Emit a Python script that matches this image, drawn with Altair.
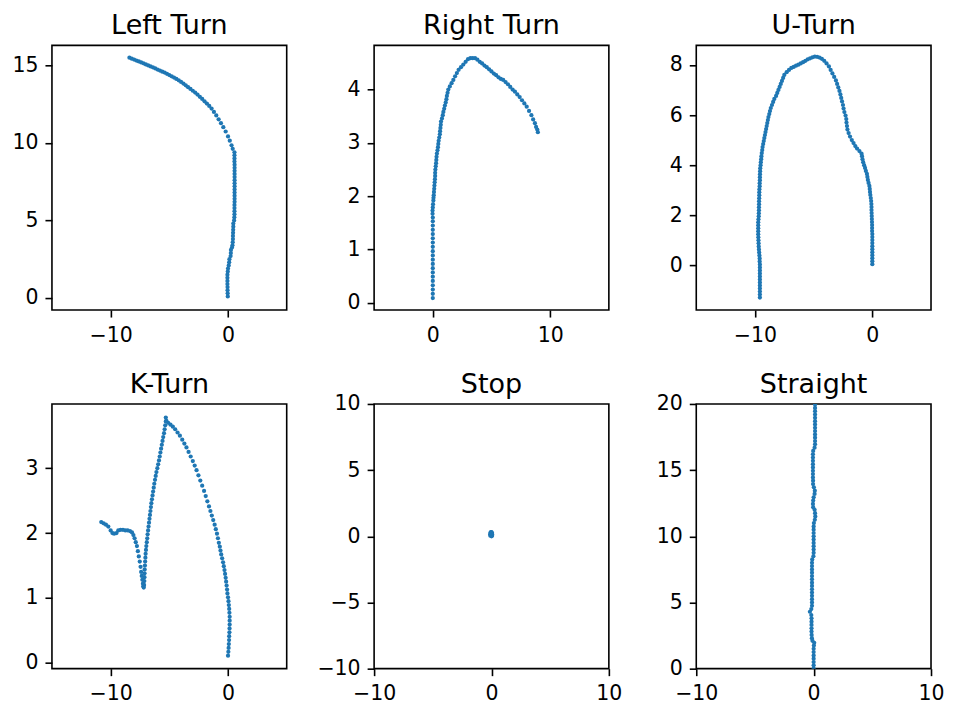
import altair as alt
import pandas as pd

BLUE = "#1f77b4"

TITLES = ["Left Turn", "Right Turn", "U-Turn", "K-Turn", "Stop", "Straight"]

LEFT_TURN = [
    (-8.4, 15.50), (-8.2, 15.44), (-8.0, 15.38), (-7.8, 15.32), (-7.6, 15.26), (-7.4, 15.20),
    (-7.2, 15.14), (-7.0, 15.07), (-6.8, 15.00), (-6.6, 14.94), (-6.4, 14.88), (-6.2, 14.81),
    (-6.0, 14.74), (-5.8, 14.67), (-5.6, 14.60), (-5.4, 14.54), (-5.2, 14.46), (-5.0, 14.38),
    (-4.8, 14.30), (-4.6, 14.22), (-4.4, 14.13), (-4.2, 14.04), (-4.0, 13.94), (-3.8, 13.83),
    (-3.6, 13.72), (-3.4, 13.60), (-3.2, 13.49), (-3.0, 13.37), (-2.8, 13.25), (-2.6, 13.12),
    (-2.4, 12.98), (-2.2, 12.84), (-2.0, 12.69), (-1.8, 12.54), (-1.6, 12.39), (-1.4, 12.22),
    (-1.2, 12.00), (-1.0, 11.78), (-0.8, 11.53), (-0.6, 11.28), (-0.4, 11.02), (-0.2, 10.74),
    (0.0, 10.42), (0.15, 10.15), (0.3, 9.85), (0.4, 9.62),
    (0.55, 9.4), (0.55, 9.2), (0.55, 9.0), (0.55, 8.8), (0.56, 8.6), (0.56, 8.4), (0.56, 8.2),
    (0.56, 8.0), (0.56, 7.8), (0.56, 7.6), (0.56, 7.4), (0.56, 7.2), (0.56, 7.0), (0.56, 6.8),
    (0.56, 6.6), (0.56, 6.4), (0.56, 6.2), (0.55, 6.0), (0.55, 5.8), (0.55, 5.6), (0.55, 5.4),
    (0.54, 5.2), (0.52, 5.0),
    (0.45, 4.8), (0.45, 4.6), (0.44, 4.4), (0.43, 4.2), (0.42, 4.0), (0.42, 3.8), (0.40, 3.6),
    (0.38, 3.4), (0.34, 3.25), (0.25, 3.1), (0.24, 2.9), (0.22, 2.7), (0.12, 2.5), (0.1, 2.3),
    (0.06, 2.1), (0.0, 1.9), (-0.02, 1.7), (-0.05, 1.5), (-0.05, 1.3), (-0.05, 1.1), (-0.05, 0.9),
    (-0.04, 0.7), (-0.04, 0.5), (-0.03, 0.3), (-0.02, 0.1),
]

RIGHT_TURN = [
    (0.0, 0.09), (0.0, 0.17), (0.0, 0.25), (0.0, 0.33), (0.0, 0.41), (0.0, 0.49), (0.0, 0.57),
    (0.0, 0.65), (0.0, 0.73), (0.0, 0.81), (0.0, 0.89), (0.0, 0.97), (0.0, 1.05), (0.0, 1.13),
    (0.0, 1.21), (0.0, 1.29), (0.0, 1.37), (0.0, 1.45), (0.0, 1.53), (0.0, 1.60), (-0.02, 1.67),
    (-0.02, 1.73), (0.0, 1.79), (0.02, 1.85),
    (0.05, 1.92), (0.06, 1.97), (0.08, 2.02), (0.1, 2.08), (0.12, 2.14), (0.14, 2.2), (0.16, 2.26),
    (0.18, 2.32), (0.2, 2.38), (0.2, 2.44), (0.22, 2.5), (0.25, 2.56), (0.28, 2.62), (0.3, 2.68),
    (0.32, 2.74), (0.35, 2.8), (0.4, 2.86), (0.44, 2.92), (0.47, 2.98), (0.5, 3.04), (0.55, 3.1),
    (0.6, 3.16), (0.62, 3.22), (0.65, 3.28), (0.68, 3.34), (0.7, 3.4), (0.78, 3.46), (0.85, 3.52),
    (0.9, 3.58), (0.97, 3.64), (1.03, 3.7), (1.1, 3.76), (1.16, 3.82), (1.2, 3.88), (1.26, 3.94),
    (1.32, 4.0), (1.45, 4.06), (1.6, 4.12), (1.75, 4.18), (1.9, 4.25), (2.05, 4.31), (2.2, 4.37),
    (2.4, 4.42), (2.6, 4.47), (2.8, 4.52), (3.0, 4.57), (3.2, 4.59), (3.4, 4.59), (3.6, 4.59),
    (3.8, 4.56), (4.0, 4.52), (4.2, 4.49), (4.4, 4.45), (4.6, 4.42), (4.8, 4.38), (5.0, 4.34),
    (5.2, 4.3), (5.4, 4.27), (5.6, 4.23), (5.8, 4.2), (6.0, 4.18), (6.2, 4.14), (6.4, 4.1),
    (6.6, 4.05), (6.8, 4.0), (7.0, 3.96), (7.2, 3.91), (7.4, 3.86), (7.6, 3.8), (7.8, 3.74),
    (8.0, 3.68), (8.2, 3.6), (8.4, 3.52), (8.55, 3.44), (8.7, 3.37), (8.8, 3.3), (8.9, 3.25),
    (8.95, 3.2),
]

U_TURN = [
    (0.0, 0.05), (0.0, 0.17), (0.0, 0.29), (0.0, 0.41), (0.0, 0.53), (0.0, 0.65), (0.0, 0.77),
    (0.0, 0.89), (0.0, 1.01), (0.0, 1.13), (0.0, 1.25), (-0.02, 1.37), (-0.02, 1.49), (-0.02, 1.61),
    (-0.03, 1.73), (-0.04, 1.85), (-0.05, 1.97), (-0.06, 2.09), (-0.07, 2.21), (-0.07, 2.33),
    (-0.08, 2.45), (-0.1, 2.57), (-0.13, 2.69), (-0.17, 2.81), (-0.2, 2.93), (-0.22, 3.05),
    (-0.25, 3.17), (-0.32, 3.29), (-0.38, 3.41), (-0.42, 3.53), (-0.46, 3.65), (-0.55, 3.77),
    (-0.62, 3.89), (-0.7, 4.0), (-0.78, 4.12), (-0.84, 4.24), (-0.88, 4.36), (-0.92, 4.46),
    (-1.1, 4.56), (-1.3, 4.66), (-1.45, 4.76), (-1.6, 4.88), (-1.75, 5.0), (-1.9, 5.14),
    (-2.02, 5.28), (-2.12, 5.42), (-2.16, 5.56), (-2.2, 5.7), (-2.22, 5.84), (-2.28, 5.98),
    (-2.38, 6.12), (-2.45, 6.26), (-2.5, 6.4), (-2.58, 6.54), (-2.65, 6.68), (-2.72, 6.82),
    (-2.8, 6.96), (-2.9, 7.1), (-3.0, 7.24), (-3.1, 7.38), (-3.25, 7.52), (-3.4, 7.66),
    (-3.55, 7.8), (-3.7, 7.94), (-3.9, 8.06), (-4.1, 8.16), (-4.3, 8.24), (-4.5, 8.29),
    (-4.7, 8.32), (-4.9, 8.33), (-5.1, 8.3), (-5.3, 8.26), (-5.5, 8.22), (-5.7, 8.16),
    (-5.9, 8.11), (-6.1, 8.06), (-6.3, 8.01), (-6.5, 7.97), (-6.7, 7.92), (-6.9, 7.88),
    (-7.1, 7.8), (-7.3, 7.71), (-7.5, 7.6), (-7.6, 7.48), (-7.7, 7.36), (-7.8, 7.24),
    (-7.9, 7.12), (-8.0, 7.0), (-8.1, 6.88), (-8.2, 6.76), (-8.35, 6.64), (-8.45, 6.52),
    (-8.55, 6.4), (-8.65, 6.28), (-8.72, 6.16), (-8.78, 6.04), (-8.85, 5.92), (-8.9, 5.8),
    (-8.95, 5.68), (-9.0, 5.56), (-9.05, 5.44), (-9.1, 5.32), (-9.15, 5.2), (-9.2, 5.08),
    (-9.25, 4.96), (-9.3, 4.84), (-9.35, 4.72), (-9.38, 4.6), (-9.42, 4.48), (-9.45, 4.36),
    (-9.47, 4.24), (-9.5, 4.12), (-9.52, 4.0), (-9.55, 3.88), (-9.56, 3.76), (-9.57, 3.64),
    (-9.58, 3.52), (-9.58, 3.4), (-9.6, 3.28), (-9.6, 3.16), (-9.62, 3.04), (-9.63, 2.92),
    (-9.63, 2.8), (-9.64, 2.68), (-9.65, 2.56), (-9.65, 2.44), (-9.66, 2.32), (-9.66, 2.2),
    (-9.67, 2.08), (-9.68, 1.96), (-9.7, 1.84), (-9.72, 1.72), (-9.72, 1.6), (-9.72, 1.48),
    (-9.72, 1.36), (-9.72, 1.24), (-9.71, 1.12), (-9.7, 1.0), (-9.69, 0.88), (-9.68, 0.76),
    (-9.66, 0.64), (-9.64, 0.52), (-9.62, 0.4), (-9.6, 0.28), (-9.6, 0.16), (-9.58, 0.04),
    (-9.58, -0.08), (-9.58, -0.2), (-9.58, -0.32), (-9.58, -0.44), (-9.58, -0.56), (-9.58, -0.68),
    (-9.58, -0.8), (-9.58, -0.92), (-9.58, -1.04), (-9.58, -1.16), (-9.58, -1.28),
]

K_TURN = [
    (0.0, 0.11), (0.03, 0.17), (0.05, 0.23), (0.07, 0.29), (0.09, 0.35), (0.1, 0.41), (0.12, 0.47),
    (0.13, 0.53), (0.14, 0.59), (0.14, 0.65), (0.14, 0.71), (0.12, 0.77), (0.1, 0.83), (0.07, 0.89),
    (0.04, 0.95), (0.0, 1.01), (-0.05, 1.07), (-0.08, 1.13), (-0.12, 1.19), (-0.16, 1.25),
    (-0.2, 1.31), (-0.25, 1.37), (-0.3, 1.43), (-0.36, 1.49), (-0.42, 1.55), (-0.5, 1.61),
    (-0.58, 1.67), (-0.64, 1.73), (-0.7, 1.79), (-0.78, 1.85), (-0.86, 1.92), (-0.94, 1.99),
    (-1.04, 2.06), (-1.14, 2.13), (-1.26, 2.2), (-1.38, 2.27), (-1.5, 2.34), (-1.62, 2.41),
    (-1.76, 2.49), (-1.9, 2.57), (-2.04, 2.65), (-2.2, 2.73), (-2.36, 2.81), (-2.52, 2.89),
    (-2.68, 2.97), (-2.84, 3.04), (-3.0, 3.11), (-3.18, 3.18), (-3.36, 3.25), (-3.54, 3.32),
    (-3.72, 3.38), (-3.9, 3.44), (-4.1, 3.5), (-4.3, 3.55), (-4.5, 3.6), (-4.7, 3.64),
    (-4.9, 3.67), (-5.1, 3.7), (-5.25, 3.73), (-5.3, 3.78),
    (-5.3, 3.72), (-5.35, 3.66), (-5.4, 3.6), (-5.45, 3.54), (-5.52, 3.48), (-5.58, 3.42),
    (-5.64, 3.36), (-5.7, 3.3), (-5.76, 3.24), (-5.82, 3.18), (-5.88, 3.12), (-5.95, 3.06),
    (-6.02, 3.0), (-6.1, 2.94), (-6.16, 2.88), (-6.22, 2.82), (-6.28, 2.76), (-6.33, 2.7),
    (-6.38, 2.64), (-6.43, 2.58), (-6.48, 2.52), (-6.53, 2.46), (-6.57, 2.4), (-6.61, 2.34),
    (-6.65, 2.28), (-6.69, 2.22), (-6.73, 2.16), (-6.77, 2.1), (-6.81, 2.04), (-6.85, 1.98),
    (-6.88, 1.92), (-6.92, 1.86), (-6.96, 1.8), (-6.99, 1.74), (-7.02, 1.68), (-7.04, 1.62),
    (-7.06, 1.56), (-7.08, 1.5), (-7.1, 1.44), (-7.11, 1.38), (-7.12, 1.32), (-7.13, 1.26),
    (-7.15, 1.2), (-7.18, 1.16), (-7.22, 1.18),
    (-7.25, 1.22), (-7.3, 1.28), (-7.35, 1.34), (-7.4, 1.4), (-7.45, 1.48), (-7.52, 1.56),
    (-7.6, 1.64), (-7.68, 1.72), (-7.76, 1.8), (-7.86, 1.86), (-7.96, 1.92), (-8.06, 1.97),
    (-8.18, 2.01), (-8.35, 2.03), (-8.55, 2.04), (-8.75, 2.04), (-8.95, 2.05), (-9.15, 2.05),
    (-9.35, 2.04), (-9.5, 2.0), (-9.7, 1.99), (-9.85, 2.0), (-10.0, 2.04), (-10.2, 2.1),
    (-10.4, 2.13), (-10.6, 2.15), (-10.8, 2.17),
]

STOP = [
    (-0.1, 0.05), (-0.1, 0.15), (-0.1, 0.25), (-0.05, 0.32), (0.0, 0.32), (0.05, 0.25),
    (0.05, 0.15), (0.05, 0.05), (0.0, 0.0), (-0.05, 0.1), (0.0, 0.2),
]

STRAIGHT = [
    (0.0, 0.0), (0.0, 0.25), (0.0, 0.5), (0.0, 0.75), (0.0, 1.0), (0.0, 1.25), (0.0, 1.5),
    (0.02, 1.75), (0.05, 1.95), (-0.1, 2.1), (-0.15, 2.3), (-0.17, 2.55), (-0.18, 2.8),
    (-0.18, 3.05), (-0.18, 3.3), (-0.18, 3.55), (-0.18, 3.8), (-0.2, 4.05), (-0.32, 4.3),
    (-0.2, 4.5), (-0.14, 4.75), (-0.14, 5.0), (-0.14, 5.25), (-0.14, 5.5), (-0.14, 5.75),
    (-0.14, 6.0), (-0.14, 6.25), (-0.14, 6.5), (-0.14, 6.75), (-0.14, 7.0), (-0.14, 7.25),
    (-0.14, 7.5), (-0.14, 7.75), (-0.14, 8.0), (-0.12, 8.25), (-0.02, 8.5), (0.0, 8.75),
    (0.0, 9.0), (0.0, 9.25), (0.0, 9.5), (0.0, 9.75), (0.0, 10.0), (0.0, 10.25), (0.0, 10.5),
    (0.0, 10.75), (0.02, 11.0), (0.1, 11.25), (0.14, 11.5), (0.12, 11.75), (0.08, 12.0),
    (-0.04, 12.2), (-0.06, 12.45), (-0.04, 12.7), (0.0, 12.95), (0.08, 13.2), (0.1, 13.45),
    (0.02, 13.7), (-0.05, 13.95), (-0.05, 14.2), (-0.06, 14.45), (-0.06, 14.7), (-0.06, 14.95),
    (-0.06, 15.2), (-0.06, 15.45), (-0.06, 15.7), (-0.06, 15.95), (-0.06, 16.2), (-0.04, 16.45),
    (0.08, 16.7), (0.12, 16.95), (0.12, 17.2), (0.12, 17.45), (0.12, 17.7), (0.12, 17.95),
    (0.12, 18.2), (0.12, 18.45), (0.12, 18.7), (0.12, 18.95), (0.12, 19.2), (0.12, 19.45),
    (0.12, 19.7), (0.12, 19.95),
]

SERIES = [LEFT_TURN, RIGHT_TURN, U_TURN, K_TURN, STOP, STRAIGHT]

X_DOMAINS = [[-15, 5], [-5, 15], [-15, 5], [-15, 5], [-10, 10], [-10, 10]]
Y_DOMAINS = [[-0.78, 16.3], [-0.135, 4.83], [-1.78, 8.78], [-0.09, 3.99], [-10, 10], [0, 20]]
X_TICKS = [[-10, 0], [0, 10], [-10, 0], [-10, 0], [-10, 0, 10], [-10, 0, 10]]
Y_TICKS = [[0, 5, 10, 15], [0, 1, 2, 3, 4], [0, 2, 4, 6, 8], [0, 1, 2, 3],
           [-10, -5, 0, 5, 10], [0, 5, 10, 15, 20]]

FONT = "DejaVu Sans"
W, H = 235, 265


def axis(values, pad):
    return alt.Axis(values=values, format="d", domain=False, grid=False, ticks=True,
                    tickColor="black", tickSize=7, tickWidth=1.6, labelFont=FONT,
                    labelFontSize=20.5, labelColor="black", labelPadding=pad,
                    labelFlush=False, labelOverlap=False)


def panel(i):
    df = pd.DataFrame(SERIES[i], columns=["x", "y"])
    pts = (
        alt.Chart(df)
        .mark_circle(size=18, color=BLUE, opacity=1, clip=True)
        .encode(
            x=alt.X("x:Q", title=None,
                    scale=alt.Scale(domain=X_DOMAINS[i], nice=False, zero=False),
                    axis=axis(X_TICKS[i], 8)),
            y=alt.Y("y:Q", title=None,
                    scale=alt.Scale(domain=Y_DOMAINS[i], nice=False, zero=False),
                    axis=axis(Y_TICKS[i], 7)),
        )
    )
    ttl = (
        alt.Chart(pd.DataFrame({"t": [TITLES[i]]}))
        .mark_text(font=FONT, fontSize=27, color="black", align="center",
                   baseline="alphabetic")
        .encode(text="t:N", x=alt.value(W / 2), y=alt.value(-11))
    )
    return alt.layer(pts, ttl).properties(width=W, height=H)


chart = (
    alt.concat(*[panel(i) for i in range(6)], columns=3,
               spacing={"row": 94, "column": 87.5}, bounds="flush",
               padding={"left": 3, "top": 3, "right": 0, "bottom": 0})
    .configure(background="white")
    .configure_view(stroke="black", strokeWidth=1.6)
)

chart.save("out.html", embed_options={"renderer": "svg", "actions": False})
